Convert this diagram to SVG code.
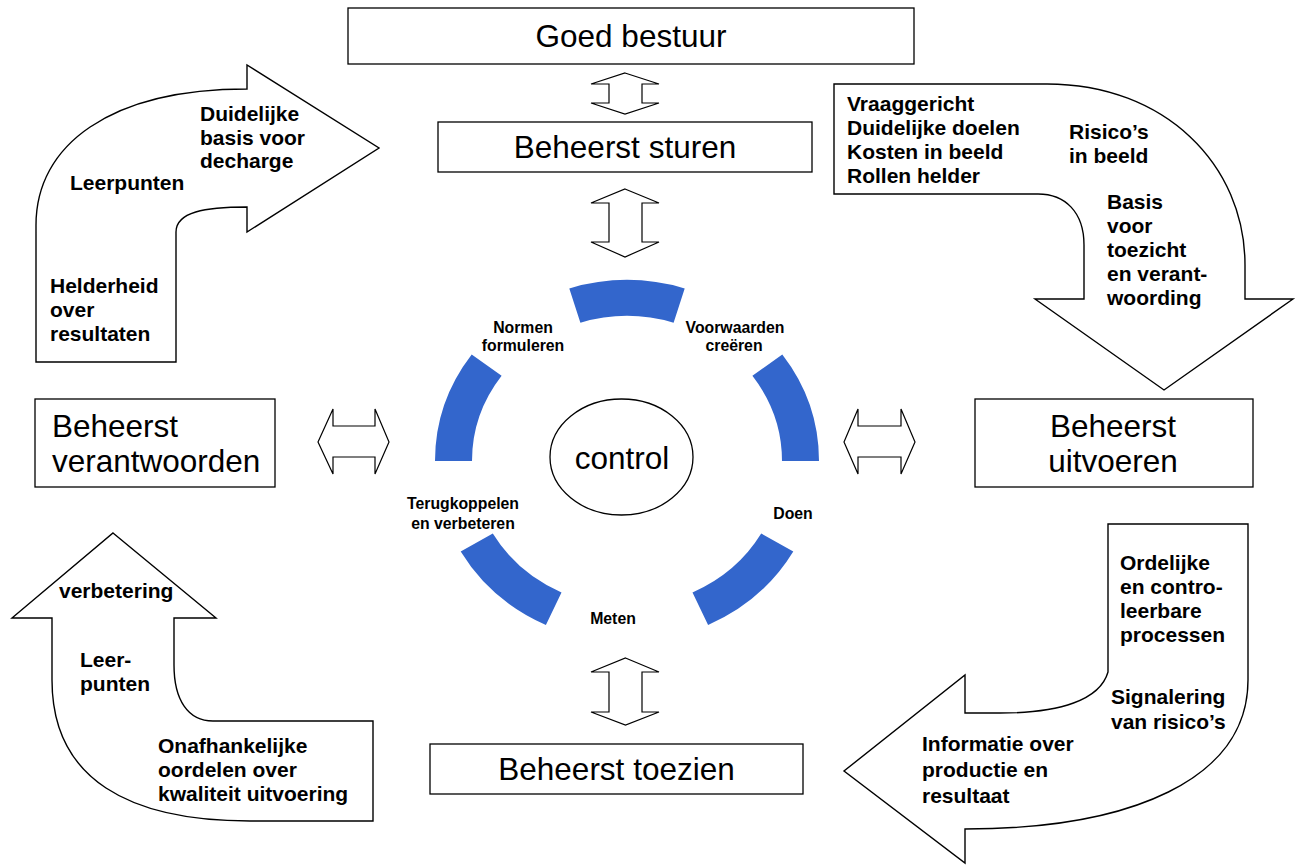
<svg xmlns="http://www.w3.org/2000/svg" width="1301" height="865" viewBox="0 0 1301 865">
<style>
.box{fill:#fff;stroke:#000;stroke-width:1.3}
.big{fill:#fff;stroke:#000;stroke-width:1.4;stroke-linejoin:miter}
.dbl{fill:#fff;stroke:#000;stroke-width:1.2}
.seg{fill:#3366CC;stroke:none}
.bt{font-family:"Liberation Sans",Arial,sans-serif;font-size:31.5px;fill:#000}
.at{font-family:"Liberation Sans",Arial,sans-serif;font-size:21px;font-weight:bold;fill:#000}
.rt{font-family:"Liberation Sans",Arial,sans-serif;font-size:15.8px;font-weight:bold;fill:#000;text-anchor:middle}
.c{text-anchor:middle}
</style>
<rect width="1301" height="865" fill="#fff"/>

<g id="arrow-topleft">
<path class="big" d="M 36 362 L 36 225 C 36 145, 110 89, 247 89 L 247 65 L 379 148 L 247 232 L 247 207 C 205 207, 176 212, 176 232 L 176 362 Z"/>
<text class="at" x="200" y="121">Duidelijke</text>
<text class="at" x="200" y="144.5">basis voor</text>
<text class="at" x="200" y="168">decharge</text>
<text class="at" x="70" y="190">Leerpunten</text>
<text class="at" x="50" y="293">Helderheid</text>
<text class="at" x="50" y="317">over</text>
<text class="at" x="50" y="341">resultaten</text>
</g>

<g id="arrow-topright">
<path class="big" d="M 834 84 L 1047 84 C 1165 84, 1245 165, 1245 265 L 1245 299 L 1293 299 L 1164 390 L 1035 299 L 1084 299 L 1084 245 C 1084 212, 1065 194, 1038 194 L 834 194 Z"/>
<text class="at" x="847" y="110.5">Vraaggericht</text>
<text class="at" x="847" y="134.5">Duidelijke doelen</text>
<text class="at" x="847" y="158.5">Kosten in beeld</text>
<text class="at" x="847" y="182.5">Rollen helder</text>
<text class="at" x="1069" y="138.5">Risico’s</text>
<text class="at" x="1069" y="163">in beeld</text>
<text class="at" x="1107" y="208.5">Basis</text>
<text class="at" x="1107" y="232.5">voor</text>
<text class="at" x="1107" y="257">toezicht</text>
<text class="at" x="1107" y="281">en verant-</text>
<text class="at" x="1107" y="305">woording</text>
</g>

<g id="arrow-bottomleft">
<path class="big" d="M 113 533 L 216 618 L 174 618 L 174 665 C 174 700, 188 721, 213 721 L 373 721 L 373 821 L 250 821 C 130 821, 52 780, 52 680 L 52 618 L 12 618 Z"/>
<text class="at" x="59" y="598">verbetering</text>
<text class="at" x="80" y="667">Leer-</text>
<text class="at" x="80" y="691">punten</text>
<text class="at" x="158" y="752.5">Onafhankelijke</text>
<text class="at" x="158" y="777">oordelen over</text>
<text class="at" x="158" y="801">kwaliteit uitvoering</text>
</g>

<g id="arrow-bottomright">
<path class="big" d="M 1108 524 L 1248 524 L 1248 680 C 1248 780, 1130 829, 965 829 L 965 863 L 844 771 L 965 675 L 965 713 L 1000 713 C 1060 713, 1100 700, 1108 672 Z"/>
<text class="at" x="1120" y="570">Ordelijke</text>
<text class="at" x="1120" y="594">en contro-</text>
<text class="at" x="1120" y="618">leerbare</text>
<text class="at" x="1120" y="642">processen</text>
<text class="at" x="1111" y="704">Signalering</text>
<text class="at" x="1111" y="729">van risico’s</text>
<text class="at" x="922" y="751">Informatie over</text>
<text class="at" x="922" y="777">productie en</text>
<text class="at" x="922" y="803">resultaat</text>
</g>

<g id="node-goed-bestuur">
<rect class="box" x="348" y="8" width="566" height="56"/>
<text class="bt c" x="631" y="47">Goed bestuur</text>
</g>
<g id="node-beheerst-sturen">
<rect class="box" x="438" y="122" width="374" height="50"/>
<text class="bt c" x="625" y="158">Beheerst sturen</text>
</g>
<g id="node-beheerst-verantwoorden">
<rect class="box" x="35" y="399" width="240" height="88"/>
<text class="bt" x="52" y="437">Beheerst</text>
<text class="bt" x="52" y="472">verantwoorden</text>
</g>
<g id="node-beheerst-uitvoeren">
<rect class="box" x="975" y="399" width="278" height="88"/>
<text class="bt c" x="1113" y="437">Beheerst</text>
<text class="bt c" x="1113" y="472">uitvoeren</text>
</g>
<g id="node-beheerst-toezien">
<rect class="box" x="430" y="744" width="373" height="50"/>
<text class="bt c" x="616.5" y="780">Beheerst toezien</text>
</g>

<g id="control-cycle">
<path class="seg" d="M 569.3 288.4 A 192 181 0 0 1 684.7 288.4 L 673.6 322.7 A 155 145 0 0 0 580.4 322.7 Z"/>
<path class="seg" d="M 782.3 354.6 A 192 181 0 0 1 819 461 L 782 461 A 155 145 0 0 0 752.4 375.8 Z"/>
<path class="seg" d="M 793.3 551.5 A 192 181 0 0 1 708.1 625 L 692.5 592.4 A 155 145 0 0 0 761.2 533.5 Z"/>
<path class="seg" d="M 545.9 625 A 192 181 0 0 1 460.7 551.5 L 492.8 533.5 A 155 145 0 0 0 561.5 592.4 Z"/>
<path class="seg" d="M 435 461 A 192 181 0 0 1 471.7 354.6 L 501.6 375.8 A 155 145 0 0 0 472 461 Z"/>
<text class="rt" x="523" y="333">Normen</text>
<text class="rt" x="523" y="351">formuleren</text>
<text class="rt" x="735" y="333">Voorwaarden</text>
<text class="rt" x="734" y="351">creëren</text>
<text class="rt" x="793" y="519">Doen</text>
<text class="rt" x="613" y="624">Meten</text>
<text class="rt" x="463" y="509">Terugkoppelen</text>
<text class="rt" x="463" y="529">en verbeteren</text>
</g>

<g id="node-control">
<ellipse cx="621.5" cy="457" rx="71.5" ry="58" fill="#fff" stroke="#000" stroke-width="1.3"/>
<text class="bt c" x="622" y="469">control</text>
</g>

<g id="connectors">
<polygon class="dbl" points="625,73 659,84 642,84 642,103 659,103 625,114 591,103 609,103 609,84 591,84"/>
<polygon class="dbl" points="625,189 659,203 642,203 642,242 659,242 625,257 591,242 609,242 609,203 591,203"/>
<polygon class="dbl" points="625.5,658 659,672 642,672 642,712 659,712 625.5,725 591,712 609,712 609,672 591,672"/>
<polygon class="dbl" points="318,442 333,409 333,426 375,426 375,409 389,442 375,474 375,457 333,457 333,474"/>
<polygon class="dbl" points="844,442 858,409 858,426 901,426 901,409 915,442 901,474 901,457 858,457 858,474"/>
</g>
</svg>
